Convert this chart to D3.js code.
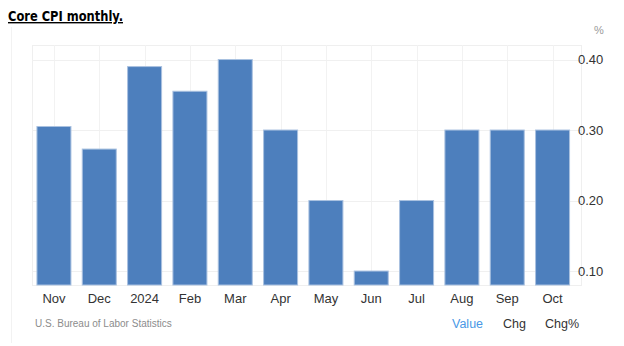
<!DOCTYPE html>
<html>
<head>
<meta charset="utf-8">
<script src="https://cdn.jsdelivr.net/npm/d3@7"></script>
<style>
  body { margin: 0; background: #fff; }
</style>
</head>
<body>
<script>
// Donnees du graphe
var mois = ["Nov", "Dec", "2024", "Feb", "Mar", "Apr", "May", "Jun", "Jul", "Aug", "Sep", "Oct"];
var valeurs = [0.305, 0.273, 0.39, 0.355, 0.40, 0.30, 0.20, 0.10, 0.20, 0.30, 0.30, 0.30];
var ticksY = [0.10, 0.20, 0.30, 0.40];

var larg = 624, haut = 346;
var gauche = 32, droite = 581, plotHaut = 45, plotBas = 285;

var svg = d3.select("body").append("svg")
  .attr("width", larg)
  .attr("height", haut);

// Titre
svg.append("text")
  .attr("x", 8).attr("y", 21)
  .attr("font-family", "'DejaVu Sans Condensed', 'DejaVu Sans', sans-serif")
  .attr("font-weight", "bold")
  .attr("font-size", "14px")
  .attr("textLength", 115)
  .attr("lengthAdjust", "spacingAndGlyphs")
  .attr("fill", "#000")
  .attr("text-decoration", "underline")
  .text("Core CPI monthly.");

// Bordure du panneau
svg.append("line")
  .attr("x1", 11.5).attr("x2", 11.5).attr("y1", 27).attr("y2", 343)
  .attr("stroke", "#f2f2f2");

var x = d3.scaleBand()
  .domain(mois)
  .range([31.5, 575])
  .paddingInner(0.25)
  .paddingOuter(0.12);

var y = d3.scaleLinear()
  .domain([0.0802, 0.4206])
  .range([plotBas, plotHaut]);

// Grille
var grille = svg.append("g");
grille.append("rect")
  .attr("x", gauche + 0.5).attr("y", plotHaut + 0.5)
  .attr("width", droite - gauche).attr("height", plotBas - plotHaut)
  .attr("fill", "none").attr("stroke", "#efefef");
grille.selectAll("line.v")
  .data(mois)
  .enter().append("line")
  .attr("class", "v")
  .attr("x1", function(d) { return Math.round(x(d) + x.bandwidth() / 2) + 0.5; })
  .attr("x2", function(d) { return Math.round(x(d) + x.bandwidth() / 2) + 0.5; })
  .attr("y1", plotHaut).attr("y2", plotBas)
  .attr("stroke", "#f2f2f2");
grille.selectAll("line.h")
  .data(ticksY)
  .enter().append("line")
  .attr("class", "h")
  .attr("x1", gauche).attr("x2", droite)
  .attr("y1", function(d) { return Math.round(y(d)) + 0.5; })
  .attr("y2", function(d) { return Math.round(y(d)) + 0.5; })
  .attr("stroke", "#f0f0f0");

// Barres
svg.selectAll("rect.barre")
  .data(valeurs)
  .enter().append("rect")
  .attr("class", "barre")
  .attr("x", function(d, i) { return x(mois[i]); })
  .attr("y", function(d) { return y(d); })
  .attr("width", x.bandwidth())
  .attr("height", function(d) { return plotBas - y(d); })
  .attr("fill", "#4d7fbd")
  .attr("stroke", "#a9c1e0")
  .attr("stroke-width", 1);

// Axe X
var axeX = svg.append("g")
  .attr("transform", "translate(0," + plotBas + ")")
  .call(d3.axisBottom(x).tickSize(0).tickPadding(9));
axeX.select(".domain").remove();
axeX.selectAll("text")
  .attr("font-family", "'Liberation Sans', Arial, sans-serif")
  .attr("font-size", "13px")
  .attr("fill", "#333");

// Axe Y
var axeY = svg.append("g")
  .attr("transform", "translate(" + droite + ",0)")
  .call(d3.axisRight(y).tickValues(ticksY).tickFormat(d3.format(".2f")).tickSize(0));
axeY.select(".domain").remove();
axeY.selectAll("text")
  .attr("x", -3)
  .attr("text-anchor", "start")
  .attr("font-family", "'Liberation Sans', Arial, sans-serif")
  .attr("font-size", "13px")
  .attr("fill", "#333");

svg.append("text")
  .attr("x", 594).attr("y", 34)
  .attr("font-family", "'Liberation Sans', Arial, sans-serif")
  .attr("font-size", "11px")
  .attr("fill", "#9a9a9a")
  .text("%");

// Pied
svg.append("text")
  .attr("x", 35).attr("y", 327)
  .attr("font-family", "'Liberation Sans', Arial, sans-serif")
  .attr("font-size", "10px")
  .attr("fill", "#8c8c8c")
  .text("U.S. Bureau of Labor Statistics");

var liens = [
  {t: "Value", x: 452, c: "#4a98e6"},
  {t: "Chg", x: 503, c: "#333"},
  {t: "Chg%", x: 545, c: "#333"}
];
svg.selectAll("text.lien")
  .data(liens)
  .enter().append("text")
  .attr("class", "lien")
  .attr("x", function(d) { return d.x; })
  .attr("y", 328)
  .attr("font-family", "'Liberation Sans', Arial, sans-serif")
  .attr("font-size", "12.5px")
  .attr("fill", function(d) { return d.c; })
  .text(function(d) { return d.t; });
</script>
</body>
</html>
